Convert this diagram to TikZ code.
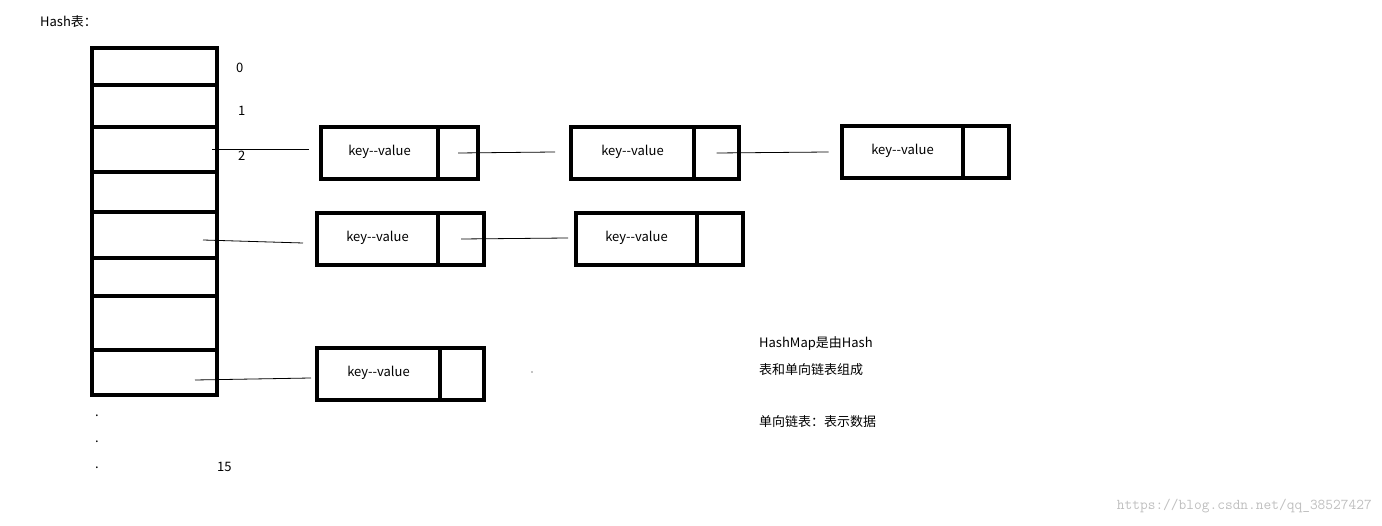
\documentclass[tikz,border=0pt]{standalone}
\usepackage{fontspec}
\setmainfont{Noto Sans CJK SC}
\usetikzlibrary{positioning}

\begin{document}
\begin{tikzpicture}[
    x=1pt, y=-1pt,
    cell/.style={draw, line width=3.5pt},
    link/.style={line width=0.8pt},
    label/.style={font=\fontsize{13}{15}\selectfont, anchor=west, inner sep=0pt}
]
\useasboundingbox (0,0) rectangle (1382,526);

\node[label] (title) at (40,22) {Hash表：};

% hash table
\draw[cell] (92,48) rectangle (217,395);
\foreach \y in {85,127,172,212,258,296,350}
  \draw[cell] (92,\y) -- (217,\y);
\node[label] (i0) at (236,68) {0};
\node[label] (i1) at (238,111) {1};
\node[label] (i2) at (238,156) {2};
\foreach \y/\n in {416/a,442/b,468/c}
  \node[label] (dot\n) at (95,\y) {.};
\node[label] (i15) at (217,467) {15};

% entries
\newcommand{\entry}[5]{%
  \draw[cell] (#2,#3) rectangle (#4,#3+52);
  \draw[cell] (#5,#3) -- (#5,#3+52);
  \node[font=\fontsize{13}{15}\selectfont] (#1) at ({(#2+#5)/2},#3+25) {key{-}{-}value};
  \coordinate (#1n) at ({(#5+#4)/2},#3+26);}
\entry{ea}{321}{127}{478}{438}
\entry{eb}{571}{127}{739}{694}
\entry{ec}{842}{126}{1009}{963}
\entry{ed}{317}{213}{484}{438}
\entry{ee}{576}{213}{743}{697}
\entry{ef}{317}{348}{484}{440}

\coordinate (s2) at (212,149);
\coordinate (s4) at (203,240);
\coordinate (s7) at (195,380);
\draw[link] (s2) -- (309,149);
\draw[link] (s4) -- (303,243);
\draw[link] (s7) -- (311,378);
\draw[link] (ean) -- ++(97,-1);
\draw[link] (ebn) -- ++(112,-1);
\draw[link] (edn) -- ++(107,-1);
\fill (532,372) circle (0.6);

\node[label] (note1) at (759,344) {HashMap是由Hash};
\node[label] (note2) at (759,370) {表和单向链表组成};
\node[label] (note3) at (759,422) {单向链表：表示数据};
\node[font=\ttfamily\fontsize{15}{17}\selectfont, text=black!25, anchor=east, inner sep=0pt] (mark) at (1372,506) {https://blog.csdn.net/qq\_38527427};
\end{tikzpicture}
\end{document}
